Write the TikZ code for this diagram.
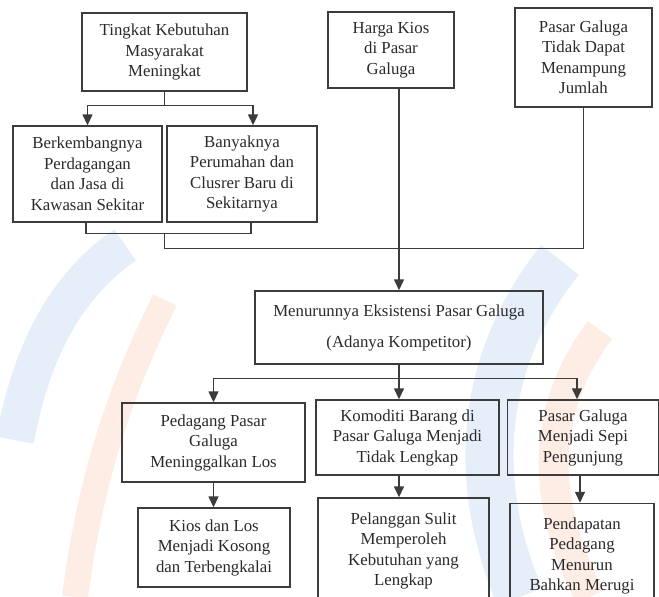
\documentclass[tikz,border=0pt]{standalone}
\usepackage{fontspec}
\setmainfont{Liberation Serif}
\usetikzlibrary{arrows.meta}
\definecolor{linegray}{HTML}{3C3C3C}
\definecolor{textgray}{HTML}{2A2A2A}
\definecolor{wmblue}{HTML}{E6EEFA}
\definecolor{wmorange}{HTML}{FDEDE5}
\tikzset{
  box/.style={draw=linegray, line width=1.4pt, align=center, inner sep=2pt,
    text=textgray, font=\fontsize{16.8}{20.5}\selectfont},
  link/.style={draw=linegray, line width=1.4pt},
  arr/.style={link, -{Triangle[width=10pt,length=11pt]}}
}
\begin{document}
\begin{tikzpicture}[x=1pt,y=-1pt]
\clip (0,0) rectangle (659,597);
\fill[white] (0,0) rectangle (659,597);
% background arcs
\draw[wmblue, line width=38pt] (125,245) .. controls (60,290) and (30,360) .. (15,440);
\draw[wmorange, line width=26pt] (165,300) .. controls (120,390) and (90,480) .. (75,597);
\draw[wmblue, line width=48pt] (560,260) .. controls (480,360) and (470,480) .. (520,597);
\draw[wmorange, line width=30pt] (600,330) .. controls (540,410) and (540,500) .. (590,597);
% boxes
\node[box, minimum width=165, minimum height=78] (tkm) at (164.5,52) {Tingkat Kebutuhan\\Masyarakat\\Meningkat};
\node[box, minimum width=149, minimum height=96] (bpj) at (87.5,174) {Berkembangnya\\Perdagangan\\dan Jasa di\\Kawasan Sekitar};
\node[box, minimum width=150, minimum height=96] (bpc) at (242,174) {Banyaknya\\Perumahan dan\\Clusrer Baru di\\Sekitarnya};
\node[box, minimum width=126, minimum height=76] (hkp) at (391,50) {Harga Kios\\di Pasar\\Galuga};
\node[box, minimum width=137, minimum height=99] (ptd) at (583.5,57.5) {Pasar Galuga\\Tidak Dapat\\Menampung\\Jumlah};
\node[box, minimum width=288, minimum height=73] (mep) at (399,327.5) {Menurunnya Eksistensi Pasar Galuga\\[10.5pt](Adanya Kompetitor)};
\node[box, minimum width=183, minimum height=79] (ppg) at (213.5,442.5) {Pedagang Pasar\\Galuga\\Meninggalkan Los};
\node[box, minimum width=183, minimum height=75] (kbp) at (407.5,437.5) {Komoditi Barang di\\Pasar Galuga Menjadi\\Tidak Lengkap};
\node[box, minimum width=151, minimum height=75] (pgs) at (583,437.5) {Pasar Galuga\\Menjadi Sepi\\Pengunjung};
\node[box, minimum width=152, minimum height=79] (kdl) at (214,547.5) {Kios dan Los\\Menjadi Kosong\\dan Terbengkalai};
\node[box, minimum width=171, minimum height=106] (psm) at (403.5,551) {Pelanggan Sulit\\Memperoleh\\Kebutuhan yang\\Lengkap};
\node[box, minimum width=144, minimum height=105] (ppm) at (582,556) {Pendapatan\\Pedagang\\Menurun\\Bahkan Merugi};
% connectors
\draw[link] (tkm.south) -- ++(0,14) coordinate (j1);
\draw[arr] (j1) -| (bpj.north);
\draw[arr] (j1) -| ([xshift=11pt]bpc.north);
\draw[link] ([xshift=-1.5pt]bpj.south) -- ++(0,11) coordinate (j2) -| ([xshift=9pt]bpc.south);
\draw[link] (j2 -| tkm.south) -- ++(0,15) -| (ptd.south);
\draw[arr] (hkp.south -| mep.north) -- (mep.north);
\draw[link] (mep.south) -- ++(0,13.5) coordinate (j3);
\draw[arr] (j3) -| (ppg.north);
\draw[arr] (j3) -- (j3 |- kbp.north);
\draw[arr] (j3) -| ([xshift=-6pt]pgs.north);
\draw[arr] (ppg.south) -- (ppg.south |- kdl.north);
\draw[arr] (kbp.south -| j3) -- (psm.north -| j3);
\draw[arr] ([xshift=-3pt]pgs.south) -- ([xshift=-3pt]pgs.south |- ppm.north);
\end{tikzpicture}
\end{document}
